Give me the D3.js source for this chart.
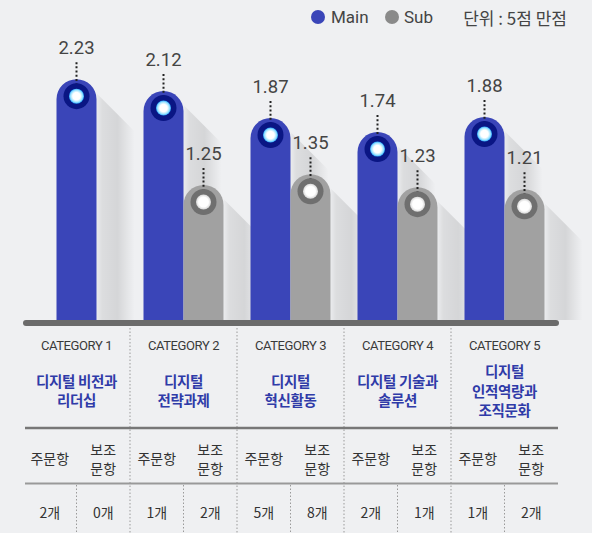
<!DOCTYPE html>
<html><head><meta charset="utf-8">
<script src="https://cdn.jsdelivr.net/npm/d3@7"></script>
<style>
html,body{margin:0;padding:0;background:#eff0f2;}
svg{display:block;}
</style></head>
<body>
<svg id="chart" width="592" height="533"></svg>
<script>
const categories = ["CATEGORY 1","CATEGORY 2","CATEGORY 3","CATEGORY 4","CATEGORY 5"];
const titles = [["디지털 비전과","리더십"],["디지털","전략과제"],["디지털","혁신활동"],["디지털 기술과","솔루션"],["디지털","인적역량과","조직문화"]];
const mainValues = [2.23,2.12,1.87,1.74,1.88];
const subValues = [null,1.25,1.35,1.23,1.21];
const mainCounts = ["2개","1개","5개","2개","1개"];
const subCounts = ["0개","2개","8개","1개","2개"];
const seriesNames = ["Main","Sub"];
const unitLabel = "단위 : 5점 만점";
const rowLabels = ["주문항", ["보조","문항"]];

const W = 592, H = 533;
const svg = d3.select("#chart");
const MAIN = "#3a45b8", MAIN_RING = "#0a1684", SUB = "#a1a1a1", SUB_RING = "#6f6f6f";
const TXT = "#444";
const baseY = 320;
const barW = 40;

svg.append("rect").attr("width",W).attr("height",H).attr("fill","#eff0f2");

const defs = svg.append("defs");
const sg = defs.append("linearGradient").attr("id","shadow").attr("x1","0").attr("x2","1").attr("y1","0").attr("y2","0");
[[0,0.02],[0.15,0.08],[0.55,0.11],[1,0.0]].forEach(([o,a])=>sg.append("stop").attr("offset",o).attr("stop-color","#000").attr("stop-opacity",a));
const gm = defs.append("radialGradient").attr("id","glowMain");
[[0,"#ffffff"],[0.5,"#ffffff"],[0.8,"#9be3ff"],[1,"#2aa8ff"]].forEach(([o,c])=>gm.append("stop").attr("offset",o).attr("stop-color",c));
const gs = defs.append("radialGradient").attr("id","glowSub");
[[0,"#ffffff"],[0.65,"#ffffff"],[1,"#d6d6d6"]].forEach(([o,c])=>gs.append("stop").attr("offset",o).attr("stop-color",c));

const x = d3.scaleBand().domain(categories).range([23,558]).padding(0);
const y = d3.scaleLinear().domain([0,2.5]).range([baseY, baseY-2.5*108]);

const bars = [];
categories.forEach((c,i)=>{
  const cx = x(c) + x.bandwidth()/2;
  if (subValues[i] == null) {
    bars.push({x0: cx - barW/2, v: mainValues[i], type:"main"});
  } else {
    bars.push({x0: cx - barW, v: mainValues[i], type:"main"});
    bars.push({x0: cx, v: subValues[i], type:"sub"});
  }
});

const gBars = svg.append("g");
function roundTopPath(x0, top, w, bottom){
  const r = w/2;
  return `M${x0},${bottom} L${x0},${top+r} A${r},${r} 0 0 1 ${x0+w},${top+r} L${x0+w},${bottom} Z`;
}
bars.forEach(b=>{
  const top = y(b.v);
  const right = b.x0 + barW;
  const sw = 38;
  gBars.append("path")
    .attr("d",`M${right},${top+14} L${right+sw},${top+14+sw} L${right+sw},${baseY} L${right},${baseY} Z`)
    .attr("fill","url(#shadow)");
  gBars.append("path").attr("d",roundTopPath(b.x0, top, barW, baseY+2))
    .attr("fill", b.type==="main"?MAIN:SUB);
});
bars.forEach(b=>{
  const top = y(b.v), cx = b.x0 + barW/2, cy = top + 17;
  gBars.append("line").attr("x1",cx).attr("x2",cx).attr("y1",top-17).attr("y2",cy)
    .attr("stroke","#222").attr("stroke-width",2).attr("stroke-dasharray","2,2.2");
  gBars.append("circle").attr("cx",cx).attr("cy",cy).attr("r",13)
    .attr("fill", b.type==="main"?MAIN_RING:SUB_RING);
  gBars.append("circle").attr("cx",cx).attr("cy",cy).attr("r",7.5)
    .attr("fill", b.type==="main"?"url(#glowMain)":"url(#glowSub)");
  gBars.append("text").attr("x",cx).attr("y",top-25).attr("text-anchor","middle")
    .attr("font-family","Roboto, sans-serif").attr("font-size",18.5).attr("fill",TXT)
    .text(b.v.toFixed(2));
});

svg.append("line").attr("x1",26).attr("x2",556).attr("y1",baseY+3).attr("y2",baseY+3)
  .attr("stroke","#6b6b6b").attr("stroke-width",6).attr("stroke-linecap","round");

// legend
const lg = svg.append("g");
lg.append("circle").attr("cx",318).attr("cy",17).attr("r",7).attr("fill",MAIN);
lg.append("text").attr("x",331).attr("y",17).attr("dominant-baseline","central")
  .attr("font-family","Roboto, sans-serif").attr("font-size",17).attr("fill",TXT).text(seriesNames[0]);
lg.append("circle").attr("cx",392).attr("cy",17).attr("r",7).attr("fill","#8a8a8a");
lg.append("text").attr("x",404).attr("y",17).attr("dominant-baseline","central")
  .attr("font-family","Roboto, sans-serif").attr("font-size",17).attr("fill",TXT).text(seriesNames[1]);
lg.append("text").attr("x",567).attr("y",17).attr("dominant-baseline","central").attr("text-anchor","end")
  .attr("font-family","'Noto Sans CJK KR', sans-serif").attr("font-weight",400).attr("font-size",17).attr("fill",TXT).text(unitLabel);

// table
const tb = svg.append("g");
const tL = 23, tR = 558;
const KR = "'Noto Sans CJK KR', sans-serif";
categories.forEach((c,i)=>{
  const x0 = x(c), bw = x.bandwidth(), cx = x0 + bw/2;
  if (i>0) tb.append("line").attr("x1",x0).attr("x2",x0).attr("y1",328).attr("y2",533)
    .attr("stroke","#9a9a9a").attr("stroke-width",1).attr("stroke-dasharray","1.5,2");
  tb.append("line").attr("x1",cx).attr("x2",cx).attr("y1",485).attr("y2",533)
    .attr("stroke","#9a9a9a").attr("stroke-width",1).attr("stroke-dasharray","1.5,2");
  tb.append("text").attr("x",cx).attr("y",345).attr("text-anchor","middle").attr("dominant-baseline","central")
    .attr("font-family","Roboto, sans-serif").attr("font-size",13).attr("letter-spacing",-0.4).attr("fill","#3a3a3a").text(c);
  const lines = titles[i], lh = 19.5, start = 390 - (lines.length-1)*lh/2;
  lines.forEach((t,j)=>tb.append("text").attr("x",cx).attr("y",start+j*lh).attr("text-anchor","middle")
    .attr("dominant-baseline","central").attr("font-family",KR).attr("font-weight",700)
    .attr("font-size",14.5).attr("letter-spacing",-0.3).attr("fill","#2f3ba8").text(t));
  const lx = x0 + bw/4, rx = x0 + 3*bw/4;
  tb.append("text").attr("x",lx).attr("y",458).attr("text-anchor","middle").attr("dominant-baseline","central")
    .attr("font-family",KR).attr("font-size",14).attr("fill","#333").text(rowLabels[0]);
  rowLabels[1].forEach((t,j)=>tb.append("text").attr("x",rx).attr("y",448.5+j*19).attr("text-anchor","middle")
    .attr("dominant-baseline","central").attr("font-family",KR).attr("font-size",14).attr("fill","#333").text(t));
  tb.append("text").attr("x",lx).attr("y",512).attr("text-anchor","middle").attr("dominant-baseline","central")
    .attr("font-family",KR).attr("font-size",14).attr("fill","#333").text(mainCounts[i]);
  tb.append("text").attr("x",rx).attr("y",512).attr("text-anchor","middle").attr("dominant-baseline","central")
    .attr("font-family",KR).attr("font-size",14).attr("fill","#333").text(subCounts[i]);
});
tb.append("line").attr("x1",tL+2).attr("x2",tR).attr("y1",428).attr("y2",428).attr("stroke","#777").attr("stroke-width",2.5);
tb.append("line").attr("x1",tL+2).attr("x2",tR).attr("y1",483.5).attr("y2",483.5).attr("stroke","#999").attr("stroke-width",2);
</script>
</body></html>
